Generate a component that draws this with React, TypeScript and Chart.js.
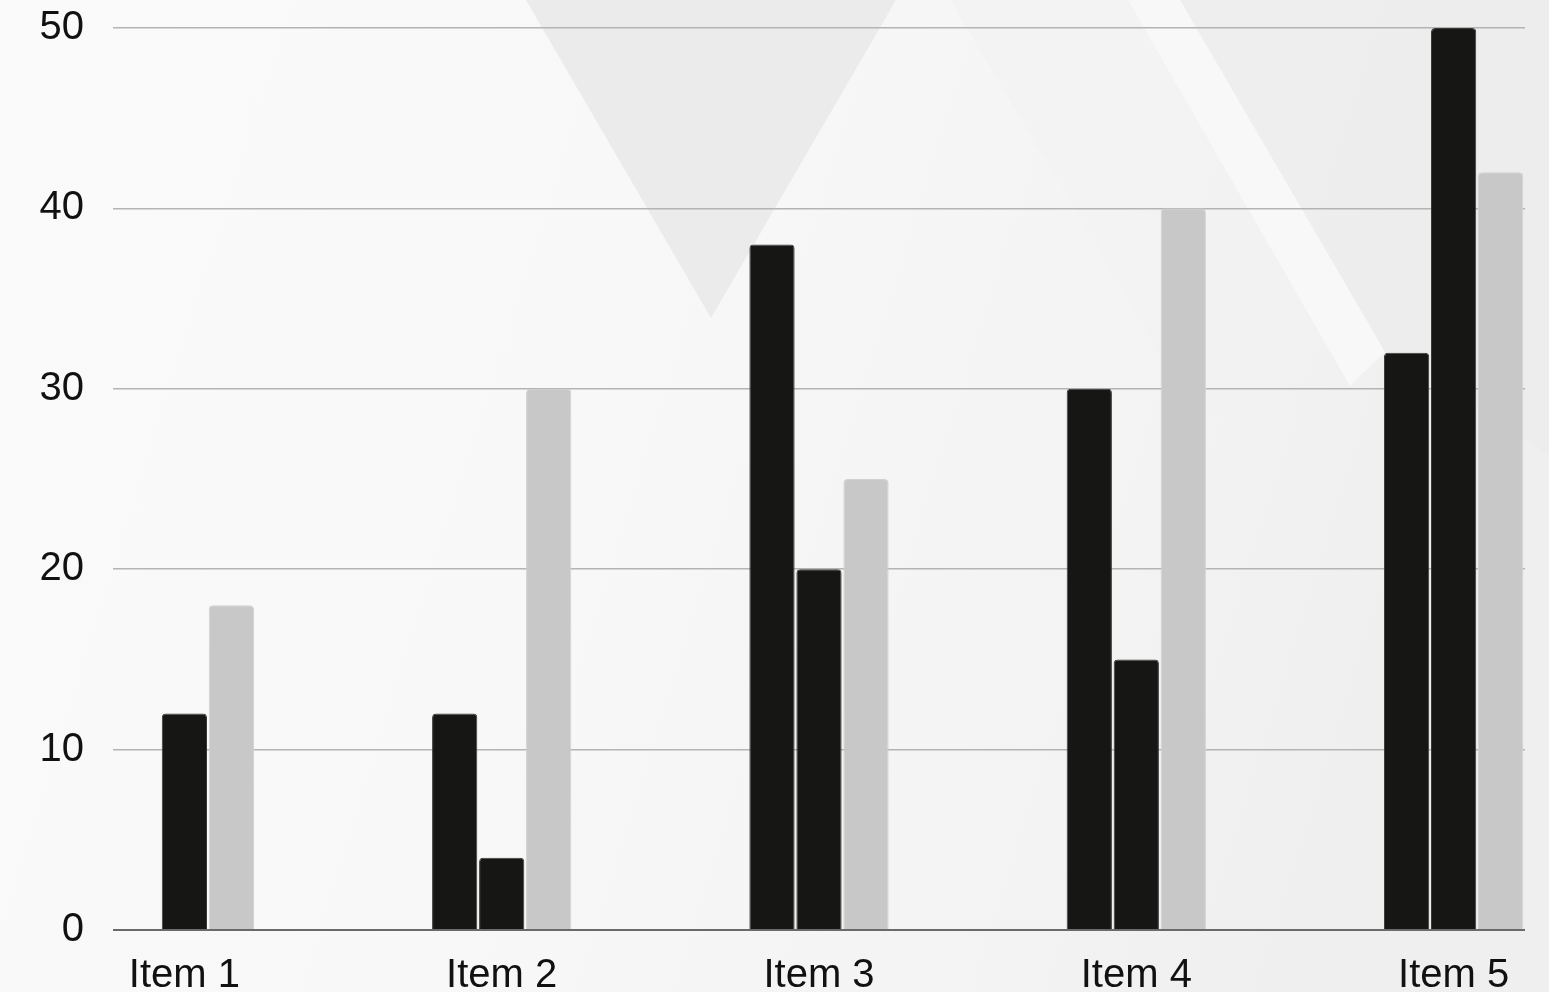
import React, { useEffect, useRef } from "react";
import { Chart, registerables } from "chart.js";

Chart.register(...registerables);

const categories = ["Item 1", "Item 2", "Item 3", "Item 4", "Item 5"];
const series1: (number | null)[] = [null, 12, 38, 30, 32];
const series2: number[] = [12, 4, 20, 15, 50];
const series3: number[] = [18, 30, 25, 40, 42];
const yTicks: number[] = [0, 10, 20, 30, 40, 50];

const BLACK = "#161614";
const GREY = "#c8c8c8";

export default function App() {
  const canvasRef = useRef<HTMLCanvasElement | null>(null);

  useEffect(() => {
    document.body.style.margin = "0";
    const canvas = canvasRef.current;
    if (!canvas) return;
    const ctx = canvas.getContext("2d");
    if (!ctx) return;

    const barStyle = (color: string, border: string) => ({
      backgroundColor: color,
      borderColor: border,
      borderWidth: 1,
      borderRadius: 4,
      borderSkipped: "start" as const,
      categoryPercentage: 0.4444,
      barPercentage: 0.963,
    });

    const chart = new Chart(ctx, {
      type: "bar",
      data: {
        labels: categories.map((_, i) => i),
        datasets: [
          { label: "Series 1", data: series1, ...barStyle(BLACK, "#3a3a38") },
          { label: "Series 2", data: series2, ...barStyle(BLACK, "#3a3a38") },
          { label: "Series 3", data: series3, ...barStyle(GREY, "#d2d2d2") },
        ],
      },
      options: {
        animation: false,
        responsive: false,
        devicePixelRatio: 1,
        layout: { padding: { top: 0, right: 24, left: 0, bottom: 0 } },
        plugins: {
          legend: { display: false },
          tooltip: { enabled: false },
        },
        scales: {
          x: {
            type: "linear",
            offset: false,
            min: -0.225,
            max: categories.length - 1 + 0.225,
            grid: { display: false, drawTicks: false, offset: false },
            border: { display: false },
            afterBuildTicks: (scale: any) => {
              scale.ticks = categories.map((_, i) => ({ value: i }));
            },
            afterFit: (scale: any) => {
              scale.height = 62;
            },
            ticks: {
              autoSkip: false,
              maxRotation: 0,
              padding: 22,
              color: "#111111",
              font: { family: "'Liberation Sans', Arial, sans-serif", size: 40 },
              callback: (value: any) => categories[Math.round(Number(value))] ?? "",
            },
          },
          y: {
            type: "linear",
            min: yTicks[0],
            max: yTicks[yTicks.length - 1],
            afterBuildTicks: (scale: any) => {
              scale.ticks = yTicks.map((v) => ({ value: v }));
            },
            afterFit: (scale: any) => {
              scale.width = 113;
            },
            border: { display: false },
            grid: {
              drawTicks: true,
              tickLength: 25,
              tickColor: "rgba(0,0,0,0)",
              lineWidth: (c: any) => (c.tick && c.tick.value === 0 ? 2 : 1.4),
              color: (c: any) => (c.tick && c.tick.value === 0 ? "#6a6a6a" : "#b4b4b4"),
            },
            ticks: {
              padding: 4,
              color: "#111111",
              font: { family: "'Liberation Sans', Arial, sans-serif", size: 40 },
            },
          },
        },
      },
    });

    return () => {
      chart.destroy();
    };
  }, []);

  return (
    <div style={{ position: "relative", width: 1549, height: 992, overflow: "hidden" }}>
      <svg
        width={1549}
        height={992}
        viewBox="0 0 1549 992"
        style={{ position: "absolute", left: 0, top: 0 }}
      >
        <defs>
          <linearGradient id="bg" x1="0" y1="0" x2="1" y2="0.2">
            <stop offset="0" stopColor="#fafafa" />
            <stop offset="0.45" stopColor="#f8f8f8" />
            <stop offset="0.8" stopColor="#f3f3f3" />
            <stop offset="1" stopColor="#efefef" />
          </linearGradient>
        </defs>
        <rect x="0" y="0" width="1549" height="992" fill="url(#bg)" />
        <polygon points="1180,0 1549,0 1549,455 1385,352" fill="#ececec" opacity="0.8" />
        <polygon points="950,0 1128,0 1350,386 1200,420" fill="#f2f2f2" opacity="0.6" />
        <polygon points="526,0 896,0 711,318" fill="#e9e9e9" opacity="0.85" />
        <polygon points="1128,0 1180,0 1385,352 1350,386" fill="#f8f8f8" opacity="0.95" />
      </svg>
      <canvas
        ref={canvasRef}
        width={1549}
        height={992}
        style={{ position: "absolute", left: 0, top: 0, width: 1549, height: 992 }}
      />
    </div>
  );
}
